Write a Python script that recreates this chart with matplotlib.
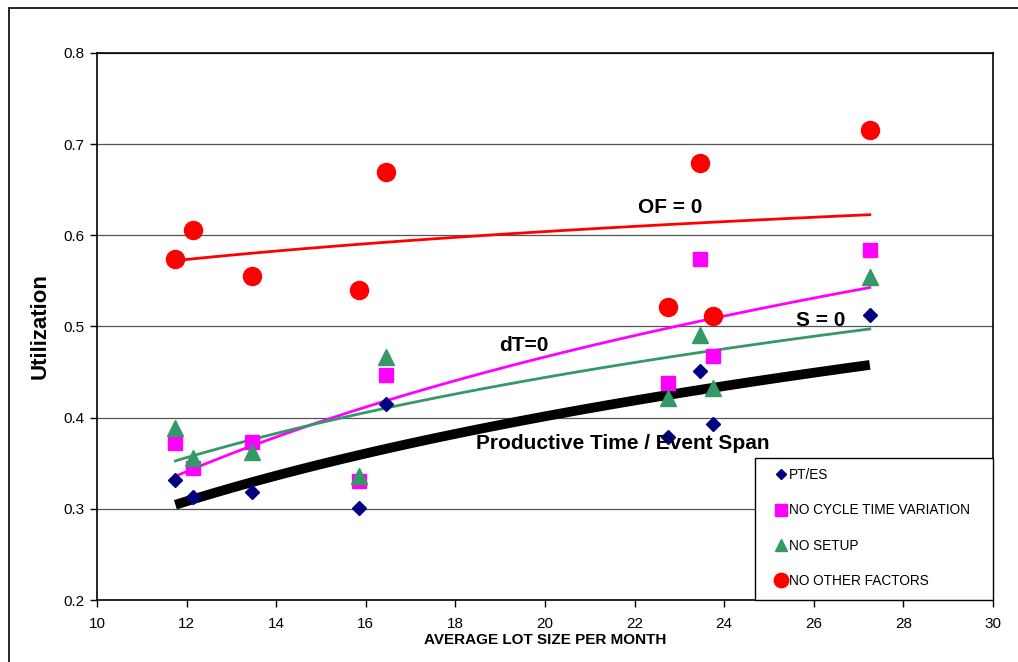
import numpy as np
import matplotlib
matplotlib.use("Agg")
import matplotlib.pyplot as plt
from matplotlib.patches import Rectangle

plt.rcParams['font.family'] = ['Liberation Sans', 'DejaVu Sans']

# ---- data ----
lot_size = [11.75, 12.15, 13.45, 15.85, 16.45, 22.75, 23.45, 23.75, 27.25]
pt_es = [0.332, 0.313, 0.318, 0.301, 0.415, 0.379, 0.451, 0.393, 0.513]
no_ct_var = [0.372, 0.345, 0.373, 0.331, 0.447, 0.438, 0.574, 0.468, 0.584]
no_setup = [0.389, 0.356, 0.362, 0.336, 0.467, 0.422, 0.491, 0.433, 0.554]
no_other = [0.574, 0.606, 0.555, 0.540, 0.669, 0.521, 0.679, 0.512, 0.716]

series_labels = ["PT/ES", "NO CYCLE TIME VARIATION", "NO SETUP", "NO OTHER FACTORS"]
x_ticks = [10, 12, 14, 16, 18, 20, 22, 24, 26, 28, 30]
y_ticks = [0.2, 0.3, 0.4, 0.5, 0.6, 0.7, 0.8]

W, H = 1018, 662
fig = plt.figure(figsize=(W/100, H/100), dpi=100)
ax = fig.add_axes([97/W, 1-600/H, (993-97)/W, (600-53)/H])

# outer chart-area border (cut off at right/bottom)
fig.patches.append(Rectangle((9/W, -0.1), 1.2, 1-8/H+0.1, transform=fig.transFigure,
                             fill=False, edgecolor='black', linewidth=1.2, zorder=0))

x = np.array(lot_size)

def log_fit(xv, yv):
    b, a = np.polyfit(np.log(xv), np.array(yv), 1)
    xs = np.linspace(min(xv), max(xv), 100)
    return xs, a + b*np.log(xs)

# trendlines
xs, ys = log_fit(x, pt_es)
ax.plot(xs, ys, color='black', lw=7, solid_capstyle='butt', zorder=3)
xs, ys = log_fit(x, no_ct_var)
ax.plot(xs, ys, color='#FF00FF', lw=2.0, zorder=3)
xs, ys = log_fit(x, no_setup)
ax.plot(xs, ys, color='#339966', lw=2.0, zorder=3)
xs, ys = log_fit(x, no_other)
ax.plot(xs, ys, color='#FF0000', lw=2.0, zorder=3)

# markers
ax.plot(x, pt_es, 'D', color='#000080', ms=7, mec='#000080', ls='none', label=series_labels[0], zorder=4)
ax.plot(x, no_ct_var, 's', color='#FF00FF', ms=10.5, mec='#FF00FF', ls='none', label=series_labels[1], zorder=4)
ax.plot(x, no_setup, '^', color='#339966', ms=11.5, mec='#339966', ls='none', label=series_labels[2], zorder=4)
ax.plot(x, no_other, 'o', color='#FF0000', ms=13, mec='#FF0000', ls='none', label=series_labels[3], zorder=4)

ax.set_xlim(10, 30)
ax.set_ylim(0.2, 0.8)
ax.set_xticks(x_ticks)
ax.set_yticks(y_ticks)
ax.set_yticklabels([f"{v:.1f}" for v in y_ticks])
ax.tick_params(direction='out', length=5, width=1, labelsize=11)
ax.tick_params(axis='x', pad=7.5)
ax.tick_params(axis='y', pad=4)
ax.yaxis.grid(True, color='#555555', lw=0.9)
ax.set_axisbelow(True)
for s in ax.spines.values():
    s.set_linewidth(1.2)

ax.set_xlabel("AVERAGE LOT SIZE PER MONTH", fontsize=11, fontweight='bold', labelpad=1)
ax.set_ylabel("Utilization", fontsize=16, fontweight='bold', labelpad=9)

# annotations
ax.text(22.79, 0.630, "OF = 0", fontsize=15, fontweight='bold', ha='center', va='center', zorder=5)
ax.text(19.53, 0.479, "dT=0", fontsize=15, fontweight='bold', ha='center', va='center', zorder=5)
ax.text(26.16, 0.507, "S = 0", fontsize=15, fontweight='bold', ha='center', va='center', zorder=5)
ax.text(21.74, 0.372, "Productive Time / Event Span", fontsize=15, fontweight='bold',
        ha='center', va='center', zorder=5)

# legend box (drawn separately) + legend contents
def px2ax(px, py):
    return ((px-97)/(993-97), (600-py)/(600-53))

bx0, by0 = px2ax(755, 600)
bx1, by1 = px2ax(993, 458)
ax.add_patch(Rectangle((bx0, by0), bx1-bx0, by1-by0, transform=ax.transAxes,
                       facecolor='white', edgecolor='black', lw=1.0, zorder=6, clip_on=False))
ax_anchor = px2ax(774, 468)
leg = ax.legend(loc='upper left', bbox_to_anchor=ax_anchor, fontsize=9.8, frameon=False,
                borderaxespad=0, borderpad=0, handlelength=1.0, handletextpad=0.1,
                markerscale=0.8, labelspacing=1.57)
leg.set_zorder(7)

fig.savefig("out.png", dpi=100)
